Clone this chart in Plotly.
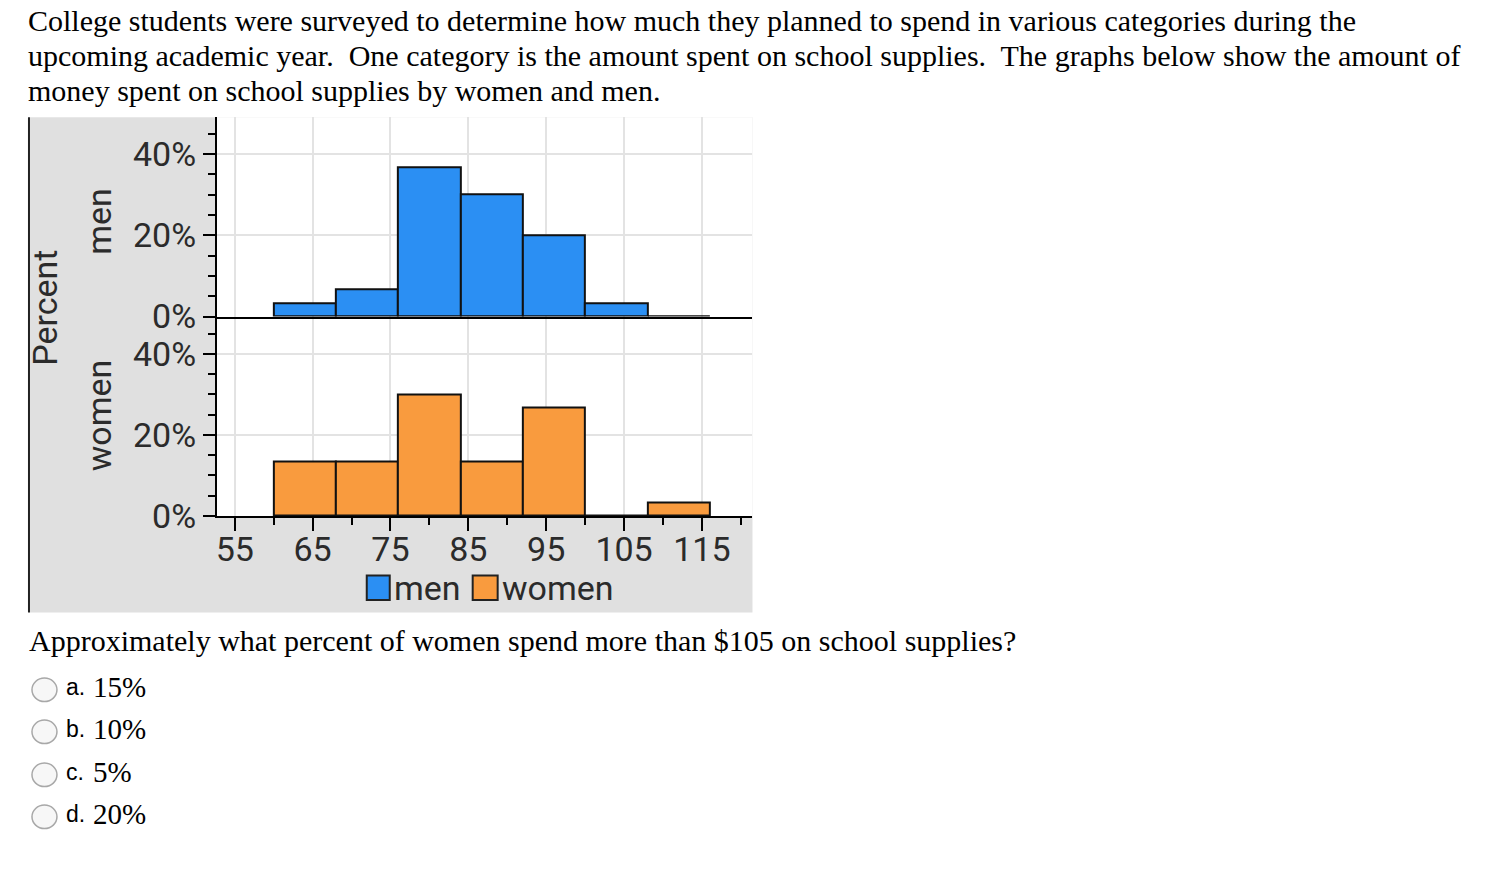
import plotly.graph_objects as go

# ---------------- data ----------------
bin_left = [60, 68, 76, 84, 92, 100, 108]
bin_width = 8
men_pct = [3.33, 6.67, 36.67, 30.0, 20.0, 3.33, 0]
women_pct = [13.33, 13.33, 30.0, 13.33, 26.67, 0, 3.33]
x_ticks = [55, 65, 75, 85, 95, 105, 115]
x_minor = [60, 70, 80, 90, 100, 110, 120]
y_ticks = [0, 20, 40]
y_ticktext = ["0%", "20%", "40%"]

intro_lines = [
    "College students were surveyed to determine how much they planned to spend in various categories during the",
    "upcoming academic year.  One category is the amount spent on school supplies.  The graphs below show the amount of",
    "money spent on school supplies by women and men.",
]
question = "Approximately what percent of women spend more than $105 on school supplies?"
opt_letters = ["a.", "b.", "c.", "d."]
opt_values = ["15%", "10%", "5%", "20%"]

# ---------------- styling ----------------
W, H = 1488, 872
def X(px): return px / W
def Y(py): return 1 - py / H

MEN_COLOR = "#2b8ff3"
WOMEN_COLOR = "#f99b3e"
GRID = "#e3e3e3"
SANS = "Roboto"
SERIF = "Liberation Serif"
TXT = "#2b2b2b"

fig = go.Figure()
fig.add_trace(go.Bar(x=bin_left, y=men_pct, width=bin_width, offset=0,
                     marker=dict(color=MEN_COLOR, line=dict(color="#111", width=2)),
                     name="men", xaxis="x2", yaxis="y2", showlegend=False))
fig.add_trace(go.Bar(x=bin_left, y=women_pct, width=bin_width, offset=0,
                     marker=dict(color=WOMEN_COLOR, line=dict(color="#111", width=2)),
                     name="women", xaxis="x", yaxis="y", showlegend=False))

xdom = [X(216), X(752)]
common_x = dict(range=[52.7, 121.5], showgrid=True, gridcolor=GRID, gridwidth=1.5,
                zeroline=False, showline=True, linecolor="black", linewidth=2,
                tickvals=x_ticks, domain=xdom, fixedrange=True, layer="above traces")
common_y = dict(tickvals=y_ticks, ticktext=y_ticktext, showgrid=True, gridcolor=GRID, gridwidth=1.5,
                zeroline=False, showline=True, linecolor="black", linewidth=2,
                ticks="outside", ticklen=12, tickwidth=2, tickcolor="black",
                tickfont=dict(family=SANS, size=34, color=TXT),
                minor=dict(dtick=5, tick0=0, ticks="outside", ticklen=7, tickwidth=2,
                           tickcolor="black", showgrid=False),
                fixedrange=True)

fig.update_layout(
    width=W, height=H, margin=dict(l=0, r=0, t=0, b=0),
    paper_bgcolor="white", plot_bgcolor="white", showlegend=False, bargap=0,
    xaxis=dict(**common_x, anchor="y", ticks="outside", ticklen=13, tickwidth=2, tickcolor="black",
               ticklabelstandoff=-11,
               tickfont=dict(family=SANS, size=34, color=TXT),
               minor=dict(tickvals=x_minor, ticks="outside", ticklen=7, tickwidth=2,
                          tickcolor="black", showgrid=False)),
    xaxis2=dict(**common_x, anchor="y2", matches="x", showticklabels=False, ticks=""),
    yaxis=dict(**common_y, domain=[Y(528), Y(324)], range=[0, 49.2], anchor="x"),
    yaxis2=dict(**common_y, domain=[Y(324), Y(120)], range=[0, 49], anchor="x2"),
)

shapes = [
    dict(type="rect", xref="paper", yref="paper", x0=X(29), x1=X(752), y0=Y(627), y1=Y(120),
         fillcolor="#e0e0e0", line=dict(width=0), layer="below"),
    dict(type="rect", xref="paper", yref="paper", x0=X(216), x1=X(752), y0=Y(528), y1=Y(120),
         fillcolor="white", line=dict(width=0), layer="below"),
    dict(type="line", xref="paper", yref="paper", x0=X(28), x1=X(28), y0=Y(627), y1=Y(120),
         line=dict(color="#222", width=2)),
    dict(type="rect", xref="paper", yref="paper", x0=X(366), x1=X(389), y0=Y(614), y1=Y(589),
         fillcolor=MEN_COLOR, line=dict(color="#222", width=2)),
    dict(type="rect", xref="paper", yref="paper", x0=X(472), x1=X(497), y0=Y(614), y1=Y(589),
         fillcolor=WOMEN_COLOR, line=dict(color="#222", width=2)),
]
opt_y = [703, 746, 790, 833]
for cy in opt_y:
    shapes.append(dict(type="circle", xref="paper", yref="paper",
                       x0=X(31), x1=X(56), y0=Y(cy + 15), y1=Y(cy - 9),
                       fillcolor="#f7f7f7", line=dict(color="#a8a8a8", width=1.5)))
fig.update_layout(shapes=shapes)

ann = []
for i, line in enumerate(intro_lines):
    ann.append(dict(text=line, x=X(25), y=Y(21 + 36 * i), xref="paper", yref="paper",
                    xanchor="left", yanchor="middle", showarrow=False,
                    font=dict(family=SERIF, size=30, color="black")))
ann.append(dict(text=question, x=X(26), y=Y(656), xref="paper", yref="paper",
                xanchor="left", yanchor="middle", showarrow=False,
                font=dict(family=SERIF, size=30, color="black")))
for i, (l, v) in enumerate(zip(opt_letters, opt_values)):
    ann.append(dict(text=l, x=X(63), y=Y(opt_y[i]), xref="paper", yref="paper",
                    xanchor="left", yanchor="middle", showarrow=False,
                    font=dict(family="Liberation Sans", size=23, color="black")))
    ann.append(dict(text=v, x=X(90), y=Y(opt_y[i]), xref="paper", yref="paper",
                    xanchor="left", yanchor="middle", showarrow=False,
                    font=dict(family=SERIF, size=29, color="black")))
# axis titles
for txt, cx, cy in [("Percent", 44, 315), ("men", 98, 226), ("women", 98, 425)]:
    ann.append(dict(text=txt, x=X(cx), y=Y(cy), xref="paper", yref="paper", textangle=-90,
                    xanchor="center", yanchor="middle", showarrow=False,
                    font=dict(family=SANS, size=34, color=TXT)))
# legend labels
ann.append(dict(text="men", x=X(391), y=Y(602), xref="paper", yref="paper", xanchor="left",
                yanchor="middle", showarrow=False, font=dict(family=SANS, size=34, color=TXT)))
ann.append(dict(text="women", x=X(499), y=Y(602), xref="paper", yref="paper", xanchor="left",
                yanchor="middle", showarrow=False, font=dict(family=SANS, size=34, color=TXT)))
fig.update_layout(annotations=ann)

fig.write_html("out.html", post_script="document.body.style.margin='0';",
               config={"displayModeBar": False})
